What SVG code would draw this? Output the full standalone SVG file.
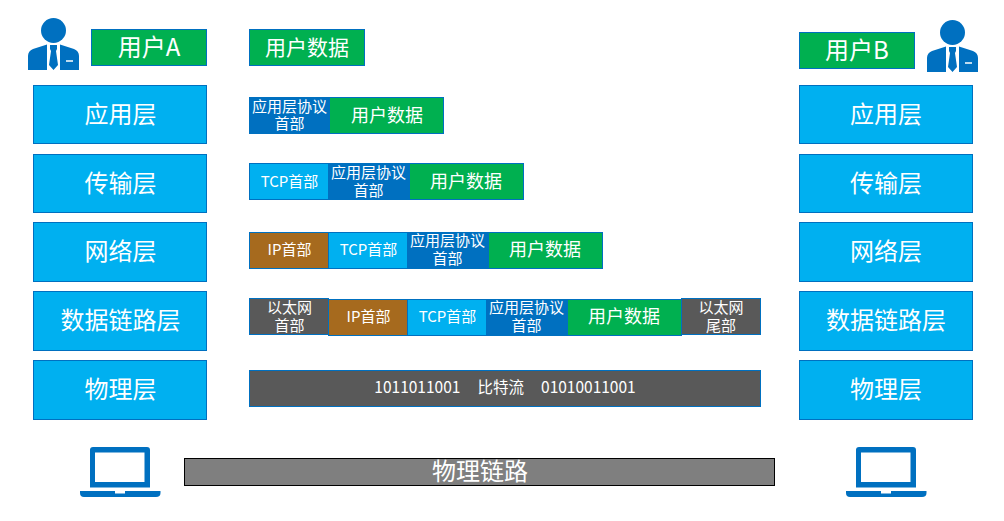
<svg xmlns="http://www.w3.org/2000/svg" width="1004" height="521" viewBox="0 0 1004 521">
<style>
text{font-family:"Noto Sans CJK SC","Noto Sans",sans-serif;fill:#fff;text-anchor:middle}
.b{stroke:#0070c0;stroke-width:1}
.layer{fill:#00b0f0;stroke:#0070c0;stroke-width:1}
.green{fill:#00b050}.blue{fill:#0070c0}.cyan{fill:#00b0f0}.brown{fill:#a66a1e}.gray{fill:#595959}
.t24{font-size:24px}.t21{font-size:21px}.t18{font-size:18px}.t15{font-size:15px}
.icon{fill:#0070c0}
</style>
<defs>
<g id="person">
<circle cx="25.500" cy="12.500" r="12.500" class="icon"/>
<path class="icon" d="M0 52V38Q0 33 5 31L19 26.500V52ZM51 52V38Q51 33 46 31L32 26.500V52ZM22 27H29V31L28 33L30 47L25.500 52L21 47L23 33L22 31Z"/>
<path d="M38 43H45" stroke="#fff" stroke-width="1.500"/>
</g>
<g id="laptop">
<path class="icon" fill-rule="evenodd" d="M13 447H67Q70 447 70 450V487.500H10V450Q10 447 13 447ZM15 452.500V482H64.500V452.500Z"/>
<path class="icon" d="M0 491H35V493.500H45V491H80.500V493Q80.500 497 76 497H4Q0 497 0 493Z"/>
</g>
</defs>

<g id="user-a"><use href="#person" x="28" y="18"/><rect class="green b" x="91.500" y="29.500" width="115" height="36"/><text class="t24" x="149" y="56">用户A</text></g>
<g id="user-b"><use href="#person" x="927" y="20"/><rect class="green b" x="799.500" y="32.500" width="115" height="36"/><text class="t24" x="857" y="59">用户B</text></g>

<g id="left-app"><rect class="layer" x="33.500" y="85.500" width="173" height="58"/><text class="t24" x="120.500" y="123">应用层</text></g>
<g id="left-transport"><rect class="layer" x="33.500" y="154.500" width="173" height="58"/><text class="t24" x="120.500" y="192">传输层</text></g>
<g id="left-network"><rect class="layer" x="33.500" y="222.500" width="173" height="59"/><text class="t24" x="120.500" y="260">网络层</text></g>
<g id="left-link"><rect class="layer" x="33.500" y="291.500" width="173" height="59"/><text class="t24" x="120.500" y="329">数据链路层</text></g>
<g id="left-phy"><rect class="layer" x="33.500" y="360.500" width="173" height="59"/><text class="t24" x="120.500" y="398">物理层</text></g>

<g id="right-app"><rect class="layer" x="799.500" y="85.500" width="173" height="58"/><text class="t24" x="886" y="123">应用层</text></g>
<g id="right-transport"><rect class="layer" x="799.500" y="154.500" width="173" height="58"/><text class="t24" x="886" y="192">传输层</text></g>
<g id="right-network"><rect class="layer" x="799.500" y="222.500" width="173" height="59"/><text class="t24" x="886" y="260">网络层</text></g>
<g id="right-link"><rect class="layer" x="799.500" y="291.500" width="173" height="59"/><text class="t24" x="886" y="329">数据链路层</text></g>
<g id="right-phy"><rect class="layer" x="799.500" y="360.500" width="173" height="59"/><text class="t24" x="886" y="398">物理层</text></g>

<g id="row0"><rect class="green b" x="249.500" y="29.500" width="115" height="36"/><text class="t21" x="307" y="54.500">用户数据</text></g>

<g id="row1">
<rect class="blue b" x="249.500" y="97.500" width="80" height="36"/><text class="t15" x="289.500" y="112">应用层协议<tspan x="289.500" dy="17">首部</tspan></text>
<rect class="green b" x="329.500" y="97.500" width="114" height="36"/><text class="t18" x="387" y="122">用户数据</text>
</g>
<g id="row2">
<rect class="cyan b" x="249.500" y="163.500" width="79" height="36"/><text class="t15" x="289.500" y="187">TCP首部</text>
<rect class="blue b" x="328.500" y="163.500" width="81" height="36"/><text class="t15" x="368.500" y="178">应用层协议<tspan x="368.500" dy="18">首部</tspan></text>
<rect class="green b" x="409.500" y="163.500" width="114" height="36"/><text class="t18" x="466" y="188">用户数据</text>
</g>
<g id="row3">
<rect class="brown b" x="249.500" y="232.500" width="79" height="36"/><text class="t15" x="289.500" y="255">IP首部</text>
<rect class="cyan b" x="328.500" y="232.500" width="79" height="36"/><text class="t15" x="368.500" y="255">TCP首部</text>
<rect class="blue b" x="407.500" y="232.500" width="81" height="36"/><text class="t15" x="447.500" y="246">应用层协议<tspan x="447.500" dy="18">首部</tspan></text>
<rect class="green b" x="488.500" y="232.500" width="114" height="36"/><text class="t18" x="545" y="256">用户数据</text>
</g>
<g id="row4">
<rect class="gray b" x="249.500" y="298.500" width="79" height="36"/><text class="t15" x="289.500" y="313">以太网<tspan x="289.500" dy="18">首部</tspan></text>
<rect class="brown b" x="328.500" y="299.500" width="79" height="36"/><text class="t15" x="368.500" y="322">IP首部</text>
<rect class="cyan b" x="407.500" y="299.500" width="79" height="36"/><text class="t15" x="447.500" y="322">TCP首部</text>
<rect class="blue b" x="486.500" y="299.500" width="81" height="36"/><text class="t15" x="526.500" y="313">应用层协议<tspan x="526.500" dy="18">首部</tspan></text>
<rect class="green b" x="567.500" y="299.500" width="114" height="36"/><text class="t18" x="624" y="323">用户数据</text>
<rect class="gray b" x="681.500" y="298.500" width="79" height="36"/><text class="t15" x="721" y="313">以太网<tspan x="721" dy="18">尾部</tspan></text>
</g>
<g id="row5">
<rect class="gray b" x="249.500" y="370.500" width="511" height="36"/>
<text x="505" y="393" font-size="15.500" word-spacing="0.800" xml:space="preserve">1011011001    比特流    01010011001</text>
</g>

<g id="link"><rect x="184.500" y="458.500" width="590" height="27" fill="#7f7f7f" stroke="#000"/><text class="t24" x="480" y="480">物理链路</text></g>
<g id="pc-a"><use href="#laptop" x="80"/></g>
<g id="pc-b"><use href="#laptop" x="846"/></g>
<g id="connectors"/>
</svg>
